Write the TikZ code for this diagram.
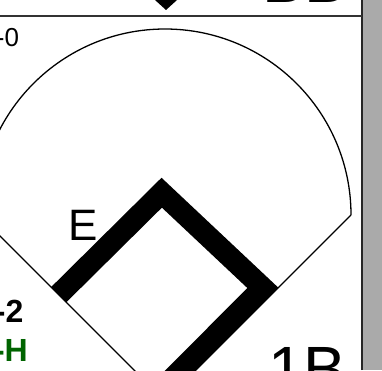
\documentclass[tikz,border=0pt]{standalone}
\usepackage{fontspec}
\setmainfont{Liberation Sans}
\usepackage{xcolor}
\definecolor{rungreen}{RGB}{0,100,0}
\definecolor{sidegray}{RGB}{170,170,170}
\usetikzlibrary{calc}

\begin{document}
\begin{tikzpicture}[x=1pt,y=1pt,
        thinline/.style={line width=1.3pt},
        basepath/.style={line width=21.5pt, line join=miter},
        lbl/.style={inner sep=0pt}]

        % Frame
        \useasboundingbox (0,0) rectangle (382,370);
        \clip (0,0) rectangle (382,370);
        \fill[sidegray] (362,0) rectangle (382,370);
        \draw[line width=1.8pt, black!85] (361.6,0) -- (361.6,370);
        \draw[line width=2pt, black!80] (0,354) -- (361.6,354);
        \fill (152.8,372) -- (179.2,372) -- (166,360) -- cycle;

        % Field
        \coordinate (home) at (165,-31);
        \coordinate (rightend) at (351,155);
        \coordinate (leftend) at (-21,155);
        \draw[thinline] (leftend) -- (home) -- (rightend);
        \draw[thinline] (rightend) arc[start angle=0, end angle=180, radius=186];

        % Bases
        \coordinate (third) at (58.7,75.3);
        \coordinate (second) at (161.7,177.3);
        \coordinate (first) at (262.8,82.2);
        \coordinate (plate) at (162,-18.8);
        \draw[basepath] (third) -- (second) -- (first) -- (plate);

        % Labels
        \node[lbl, anchor=base east, font=\fontsize{26}{26}\selectfont] (score) at (19.2,323.7) {-0};
        \node[lbl, anchor=base east, font=\bfseries\fontsize{32}{32}\selectfont] (outs) at (23.5,48) {-2};
        \node[lbl, anchor=base east, text=rungreen, font=\bfseries\fontsize{32}{32}\selectfont] (hit) at (28,8.5) {-H};
        \node[lbl, anchor=base west, font=\fontsize{44}{44}\selectfont] (err) at (68.2,129.3) {E};
        \node[lbl, anchor=base west, font=\fontsize{64}{64}\selectfont] (onefirst) at (268,-21) {1B};
        \node[lbl, anchor=base west, font=\fontsize{64}{64}\selectfont] (walk) at (262,367.5) {BB};

\end{tikzpicture}
\end{document}
